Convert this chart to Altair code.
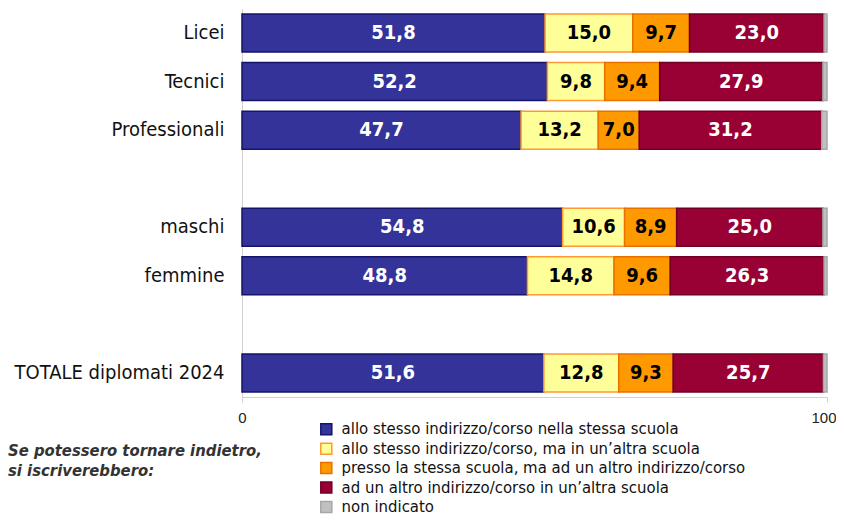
import altair as alt
import pandas as pd

FONT = "DejaVu Sans Condensed"

categories = ["Licei", "Tecnici", "Professionali", "maschi", "femmine", "TOTALE diplomati 2024"]
y_domain = ["Licei", "Tecnici", "Professionali", "sp1", "maschi", "femmine", "sp2", "TOTALE diplomati 2024"]

series = [
    "allo stesso indirizzo/corso nella stessa scuola",
    "allo stesso indirizzo/corso, ma in un\u2019altra scuola",
    "presso la stessa scuola, ma ad un altro indirizzo/corso",
    "ad un altro indirizzo/corso in un\u2019altra scuola",
    "non indicato",
]
stesso_stessa = [51.8, 52.2, 47.7, 54.8, 48.8, 51.6]
stesso_altra = [15.0, 9.8, 13.2, 10.6, 14.8, 12.8]
stessa_altro = [9.7, 9.4, 7.0, 8.9, 9.6, 9.3]
altro_altra = [23.0, 27.9, 31.2, 25.0, 26.3, 25.7]
non_indicato = [0.5, 0.7, 0.9, 0.7, 0.5, 0.6]

fills = ["#333399", "#FFFF99", "#FF9900", "#990033", "#C0C0C0"]
strokes = ["#14146B", "#FF9933", "#E87000", "#6E0025", "#A6A6A6"]
text_colors = ["white", "black", "black", "white", ""]

note_lines = ["Se potessero tornare indietro,", "si iscriverebbero:"]

rows = []
for s_i, vals in enumerate([stesso_stessa, stesso_altra, stessa_altro, altro_altra, non_indicato]):
    for c, v in zip(categories, vals):
        rows.append({"cat": c, "serie": series[s_i], "ord": s_i, "v": v, "tc": text_colors[s_i]})
df = pd.DataFrame(rows)

base = alt.Chart(df).transform_stack(
    stack="v", groupby=["cat"], as_=["x0", "x1"], sort=[alt.SortField("ord", order="ascending")]
)

y_enc = alt.Y(
    "cat:N",
    scale=alt.Scale(domain=y_domain, paddingInner=0.21, paddingOuter=0.1),
    axis=alt.Axis(
        title=None, ticks=False, labelPadding=18, labelFontSize=20, labelFont=FONT,
        labelColor="#111111", domainColor="#D0D0D0", domainWidth=1, labelLimit=300,
        labelExpr="datum.value == 'sp1' || datum.value == 'sp2' ? '' : datum.value",
    ),
)

bars = base.mark_bar(strokeWidth=1.5, size=38).encode(
    x=alt.X(
        "x0:Q",
        scale=alt.Scale(domain=[0, 100], nice=False),
        axis=alt.Axis(
            title=None, values=[0, 100], grid=False, tickSize=5, tickColor="#D0D0D0",
            domainColor="#D0D0D0", labelFontSize=15, labelFont="Liberation Sans",
            labelColor="#222222", labelPadding=8, labelFlush=False,
            labelAlign={"condition": {"test": "datum.value == 100", "value": "right"}, "value": "center"},
            labelOffset={"condition": {"test": "datum.value == 100", "value": 9}, "value": 0},
        ),
    ),
    x2="x1:Q",
    y=y_enc,
    fill=alt.Fill(
        "serie:N",
        scale=alt.Scale(domain=series, range=fills),
        legend=alt.Legend(
            title=None, orient="none", legendX=76, legendY=412, symbolType="square",
            symbolSize=121, symbolStrokeWidth=1.5, labelFontSize=16.6, labelFont=FONT,
            labelColor="#111111", rowPadding=1.4, labelOffset=7, labelLimit=600,
        ),
    ),
    stroke=alt.Stroke("serie:N", scale=alt.Scale(domain=series, range=strokes), legend=None),
)

labels = base.transform_filter("datum.ord < 4").transform_calculate(
    mid="(datum.x0 + datum.x1) / 2",
    lab="replace(format(datum.v, '.1f'), '.', ',')",
).mark_text(fontSize=20, fontWeight="bold", font=FONT, baseline="middle", align="center").encode(
    x="mid:Q",
    y=alt.Y("cat:N", scale=alt.Scale(domain=y_domain)),
    text="lab:N",
    color=alt.Color("tc:N", scale=None),
)

note_layers = []
for i, line in enumerate(note_lines):
    note_layers.append(
        alt.Chart(pd.DataFrame({"t": [line]})).mark_text(
            align="left", baseline="middle", fontSize=16.5, fontStyle="italic", fontWeight="bold",
            font=FONT, color="#333333",
        ).encode(x=alt.value(-234), y=alt.value(442 + i * 19.5), text="t:N")
    )

chart = alt.layer(bars, labels, *note_layers).properties(
    width=585,
    height=388,
    autosize=alt.AutoSizeParams(type="none"),
    padding={"left": 234, "top": 1, "right": 9, "bottom": 121},
).configure_view(stroke=None)

chart.save("out.html", embed_options={"renderer": "svg", "actions": False})
